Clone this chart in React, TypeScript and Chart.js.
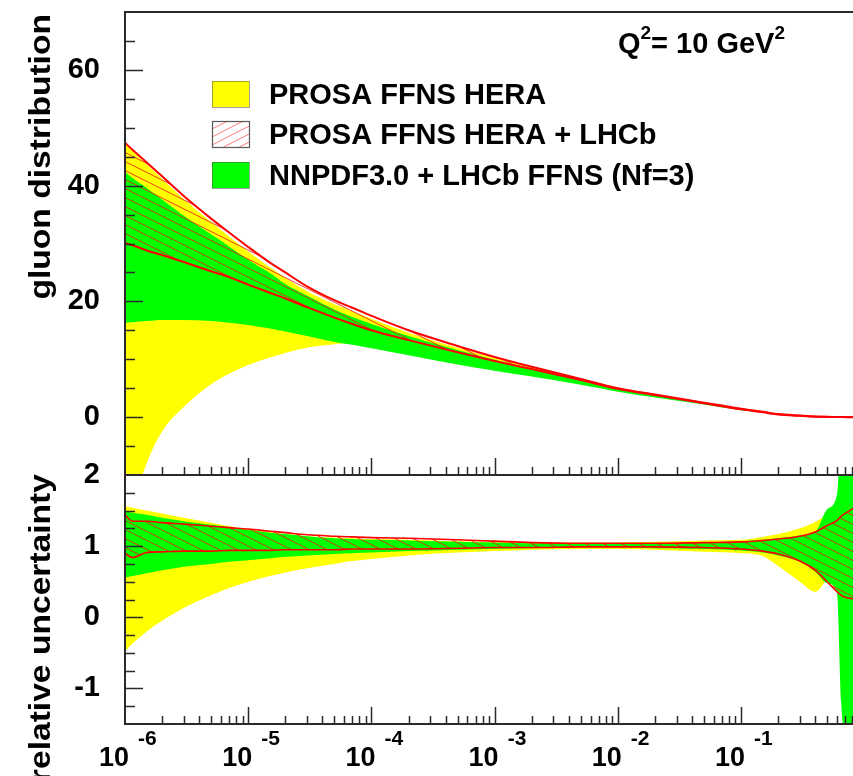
import React, { useEffect, useRef } from 'react';
import { Chart, registerables } from 'chart.js';

Chart.register(...registerables);

// ---------------- data ----------------
const X_VALUES = [1e-6, 1.15e-6, 1.5e-6, 2e-6, 3e-6, 5e-6, 7e-6, 1e-5, 1.5e-5, 2e-5, 3e-5, 5e-5, 7e-5, 1e-4, 2e-4, 5e-4, 1e-3, 2e-3, 5e-3, 1e-2, 2e-2, 5e-2, 0.1, 0.15, 0.2, 0.3, 0.4, 0.5, 0.6, 0.65, 0.7, 0.81];

// upper panel: gluon distribution
const TOP_YELLOW_LOW = [-24, -16, -8.0, -2.5, 1.8, 5.7, 7.5, 9.0, 10.3, 11.1, 12.0, 12.6, 12.8, 12.3, 11.0, 9.4, 8.2, 7.2, 5.8, 4.6, 3.5, 2.3, 1.3, 0.8, 0.45, 0.2, 0.07, 0.03, 0.01, 0, 0, 0];
const TOP_YELLOW_HIGH = [47.4, 46.0, 43.7, 41.2, 37.7, 33.7, 31.2, 28.6, 25.9, 24.1, 21.8, 19.5, 18.3, 17.0, 14.6, 12.0, 10.2, 8.6, 6.5, 5.0, 3.9, 2.5, 1.4, 0.9, 0.5, 0.25, 0.1, 0.05, 0.03, 0.02, 0.01, 0];
const TOP_GREEN_LOW = [16.3, 16.4, 16.6, 16.8, 16.8, 16.6, 16.3, 15.9, 15.3, 14.8, 14.0, 13.0, 12.5, 11.9, 10.7, 9.1, 8.0, 7.0, 5.6, 4.4, 3.4, 2.2, 1.2, 0.75, 0.4, 0.15, 0.05, 0.02, 0, 0, 0, 0];
const TOP_GREEN_HIGH = [42.4, 41.3, 39.6, 37.6, 34.8, 31.6, 29.5, 27.2, 24.9, 23.0, 21.0, 18.6, 17.3, 16.1, 14.0, 11.6, 9.9, 8.4, 6.4, 4.9, 3.8, 2.4, 1.4, 0.9, 0.5, 0.22, 0.08, 0.04, 0.02, 0.01, 0, 0];
const TOP_RED_LOW = [30.1, 29.7, 28.8, 28.0, 26.8, 25.2, 24.2, 22.9, 21.5, 20.5, 19.0, 17.2, 16.1, 15.0, 13.3, 11.2, 9.7, 8.3, 6.4, 4.9, 3.8, 2.4, 1.35, 0.85, 0.45, 0.22, 0.08, 0.04, 0.02, 0.01, 0, 0];
const TOP_RED_HIGH = [47.4, 46.2, 44.0, 41.6, 38.2, 34.3, 31.9, 29.4, 26.7, 25.0, 22.6, 20.2, 18.9, 17.5, 15.0, 12.3, 10.4, 8.7, 6.6, 5.0, 3.9, 2.5, 1.45, 0.92, 0.52, 0.26, 0.1, 0.05, 0.03, 0.02, 0.01, 0];

// lower panel: relative uncertainty
const BOT_YELLOW_LOW = [-0.48, -0.37, -0.20, -0.05, 0.13, 0.31, 0.41, 0.50, 0.58, 0.63, 0.69, 0.75, 0.79, 0.82, 0.87, 0.91, 0.93, 0.95, 0.96, 0.96, 0.95, 0.92, 0.90, 0.86, 0.72, 0.50, 0.36, 0.55, 0.8, 0.8, 0.8, 0.8];
const BOT_YELLOW_HIGH = [1.56, 1.54, 1.50, 1.46, 1.40, 1.33, 1.28, 1.24, 1.20, 1.17, 1.14, 1.12, 1.11, 1.10, 1.09, 1.07, 1.06, 1.05, 1.05, 1.05, 1.06, 1.08, 1.09, 1.13, 1.17, 1.25, 1.34, 1.42, 1.3, 1.3, 1.3, 1.3];
const BOT_GREEN_LOW = [0.56, 0.58, 0.62, 0.66, 0.71, 0.75, 0.78, 0.80, 0.83, 0.85, 0.87, 0.89, 0.90, 0.91, 0.93, 0.95, 0.96, 0.97, 0.98, 0.98, 0.97, 0.96, 0.94, 0.91, 0.87, 0.78, 0.64, 0.48, 0.35, -1.2, -1.7, -1.7];
const BOT_GREEN_HIGH = [1.49, 1.47, 1.44, 1.40, 1.35, 1.30, 1.27, 1.23, 1.19, 1.17, 1.14, 1.11, 1.10, 1.09, 1.08, 1.06, 1.05, 1.04, 1.04, 1.04, 1.04, 1.05, 1.07, 1.09, 1.11, 1.15, 1.2, 1.52, 1.72, 2.6, 2.6, 2.6];
const BOT_RED_LOW = [0.90, 0.84, 0.91, 0.92, 0.93, 0.93, 0.94, 0.94, 0.94, 0.95, 0.95, 0.95, 0.96, 0.96, 0.96, 0.97, 0.98, 0.98, 0.99, 0.99, 0.99, 0.98, 0.96, 0.93, 0.89, 0.79, 0.66, 0.50, 0.36, 0.31, 0.28, 0.26];
const BOT_RED_HIGH = [1.44, 1.35, 1.35, 1.33, 1.31, 1.28, 1.26, 1.24, 1.21, 1.19, 1.16, 1.14, 1.13, 1.12, 1.11, 1.09, 1.07, 1.05, 1.04, 1.04, 1.04, 1.05, 1.06, 1.08, 1.10, 1.14, 1.20, 1.29, 1.36, 1.42, 1.46, 1.53];

const X_TICK_EXPONENTS = [-6, -5, -4, -3, -2, -1];
const TOP_Y_LABELS = [0, 20, 40, 60];
const BOT_Y_LABELS = [-1, 0, 1, 2];
const LEGEND_LABELS = ['PROSA FFNS HERA', 'PROSA FFNS HERA + LHCb', 'NNPDF3.0 + LHCb FFNS (Nf=3)'];
const TOP_TITLE = 'gluon distribution';
const BOT_TITLE = 'relative uncertainty';

// ---------------- styling ----------------
const FONT = '"Liberation Sans", Arial, Helvetica, sans-serif';
const YELLOW = '#ffff00';
const GREEN = '#00ff00';
const RED = '#ff0000';
const FRAME = '#2a2a2a';
const X_MIN = 1e-6;
const X_MAX = 0.81;

const pts = (arr: number[]) => X_VALUES.map((x, i) => ({ x, y: arr[i] }));

function makeHatch(ctx: CanvasRenderingContext2D) {
  const c = document.createElement('canvas');
  c.width = 18;
  c.height = 9;
  const g = c.getContext('2d')!;
  g.strokeStyle = 'rgba(235,25,25,0.85)';
  g.lineWidth = 1;
  for (const dy of [-9, 0, 9]) {
    g.beginPath();
    g.moveTo(0, dy);
    g.lineTo(18, dy + 9);
    g.stroke();
  }
  return ctx.createPattern(c, 'repeat');
}

function buildDatasets(yl: number[], yh: number[], gl: number[], gh: number[], rl: number[], rh: number[], hatch: any, redWidth: number) {
  const none = 'rgba(0,0,0,0)';
  return [
    { data: pts(yl), borderWidth: 0, borderColor: none, fill: false, order: 3 },
    { data: pts(yh), borderWidth: 0, borderColor: none, fill: { target: 0, above: YELLOW, below: YELLOW }, order: 3 },
    { data: pts(gl), borderWidth: 0, borderColor: none, fill: false, order: 2 },
    { data: pts(gh), borderWidth: 0, borderColor: none, fill: { target: 2, above: GREEN, below: GREEN }, order: 2 },
    { data: pts(rl), borderWidth: redWidth, borderColor: RED, fill: false, order: 1 },
    { data: pts(rh), borderWidth: redWidth, borderColor: RED, fill: { target: 4, above: hatch, below: hatch }, order: 1 },
  ];
}

function drawXTicks(ctx: CanvasRenderingContext2D, x: any, yBase: number) {
  ctx.beginPath();
  for (let e = -6; e <= 0; e++) {
    for (let m = 1; m <= 9; m++) {
      const v = m * Math.pow(10, e);
      if (v < X_MIN * 1.0001 || v > X_MAX) continue;
      const px = Math.round(x.getPixelForValue(v)) + 0.5;
      const len = m === 1 ? 17 : 8;
      ctx.moveTo(px, yBase);
      ctx.lineTo(px, yBase - len);
    }
  }
  ctx.stroke();
}

function drawYTicks(ctx: CanvasRenderingContext2D, y: any, left: number, isMajor: (v: number) => boolean) {
  ctx.beginPath();
  for (const t of y.ticks) {
    if (t.value <= y.min || t.value >= y.max) continue;
    const py = Math.round(y.getPixelForValue(t.value)) + 0.5;
    ctx.moveTo(left, py);
    ctx.lineTo(left + (isMajor(t.value) ? 18 : 10), py);
  }
  ctx.stroke();
}

function drawFrame(ctx: CanvasRenderingContext2D, ca: any) {
  ctx.strokeStyle = FRAME;
  ctx.lineWidth = 2;
  ctx.beginPath();
  ctx.moveTo(ca.right + 2, ca.top);
  ctx.lineTo(ca.left, ca.top);
  ctx.lineTo(ca.left, ca.bottom);
  ctx.lineTo(ca.right + 2, ca.bottom);
  ctx.stroke();
}

function drawRotatedTitle(ctx: CanvasRenderingContext2D, text: string, bx: number, endY: number) {
  ctx.save();
  ctx.translate(bx, endY);
  ctx.rotate(-Math.PI / 2);
  ctx.scale(1.12, 1);
  ctx.font = `bold 30px ${FONT}`;
  ctx.fillStyle = '#000';
  ctx.textAlign = 'right';
  ctx.textBaseline = 'alphabetic';
  ctx.fillText(text, 0, 0);
  ctx.restore();
}

const topDecor = {
  id: 'topDecor',
  afterDraw(chart: any) {
    const { ctx, chartArea: ca } = chart;
    const x = chart.scales.x;
    const y = chart.scales.y;
    ctx.save();
    ctx.strokeStyle = FRAME;
    ctx.lineWidth = 1.5;
    drawYTicks(ctx, y, ca.left, (v) => v % 20 === 0);
    drawXTicks(ctx, x, ca.bottom);
    drawFrame(ctx, ca);

    // y title
    drawRotatedTitle(ctx, TOP_TITLE, 50, 14);

    // Q^2 label
    ctx.fillStyle = '#000';
    ctx.textAlign = 'left';
    ctx.textBaseline = 'alphabetic';
    let cx = 618;
    const base = 53;
    const main = `bold 29px ${FONT}`;
    const sup = `bold 19px ${FONT}`;
    ctx.font = main; ctx.fillText('Q', cx, base); cx += ctx.measureText('Q').width;
    ctx.font = sup; ctx.fillText('2', cx, base - 14); cx += ctx.measureText('2').width;
    ctx.font = main; ctx.fillText('= 10 GeV', cx, base); cx += ctx.measureText('= 10 GeV').width;
    ctx.font = sup; ctx.fillText('2', cx, base - 14);

    // legend
    const boxX = 212, boxW = 37, boxH = 26;
    const rows = [81, 121, 162];
    const baselines = [104, 144, 185];
    // yellow
    ctx.fillStyle = YELLOW; ctx.fillRect(boxX, rows[0], boxW, boxH);
    ctx.strokeStyle = 'rgba(90,90,60,0.55)'; ctx.lineWidth = 1;
    ctx.strokeRect(boxX + 0.5, rows[0] + 0.5, boxW, boxH);
    // hatched
    ctx.save();
    ctx.beginPath(); ctx.rect(boxX, rows[1], boxW, boxH); ctx.clip();
    ctx.strokeStyle = 'rgba(255,70,70,0.7)'; ctx.lineWidth = 1;
    for (let k = -4; k < 8; k++) {
      ctx.beginPath();
      ctx.moveTo(boxX, rows[1] + boxH + 4 - k * 8 + 10);
      ctx.lineTo(boxX + boxW + 10, rows[1] + boxH + 4 - k * 8 - 14);
      ctx.stroke();
    }
    ctx.restore();
    ctx.strokeStyle = 'rgba(60,60,60,0.85)'; ctx.lineWidth = 1.2;
    ctx.strokeRect(boxX + 0.5, rows[1] + 0.5, boxW, boxH);
    // green
    ctx.fillStyle = GREEN; ctx.fillRect(boxX, rows[2], boxW, boxH);
    ctx.strokeStyle = 'rgba(60,90,60,0.55)'; ctx.lineWidth = 1;
    ctx.strokeRect(boxX + 0.5, rows[2] + 0.5, boxW, boxH);

    ctx.fillStyle = '#000';
    ctx.font = `bold 29px ${FONT}`;
    LEGEND_LABELS.forEach((t, i) => ctx.fillText(t, 269, baselines[i]));
    ctx.restore();
  },
};

const botDecor = {
  id: 'botDecor',
  afterDraw(chart: any) {
    const { ctx, chartArea: ca } = chart;
    const x = chart.scales.x;
    const y = chart.scales.y;
    ctx.save();
    ctx.strokeStyle = FRAME;
    ctx.lineWidth = 1.5;
    drawYTicks(ctx, y, ca.left, (v) => Number.isInteger(v));
    drawXTicks(ctx, x, ca.bottom);
    drawFrame(ctx, ca);

    drawRotatedTitle(ctx, BOT_TITLE, 50, ca.top - 1);

    ctx.fillStyle = '#000';
    ctx.textBaseline = 'alphabetic';
    for (const e of X_TICK_EXPONENTS) {
      const px = x.getPixelForValue(Math.pow(10, e));
      ctx.font = `bold 27px ${FONT}`;
      ctx.textAlign = 'right';
      ctx.fillText('10', px + 4, ca.bottom + 42);
      ctx.font = `bold 21px ${FONT}`;
      ctx.textAlign = 'left';
      ctx.fillText(String(e), px + 13, ca.bottom + 21);
    }
    ctx.restore();
  },
};

function baseOptions(yMin: number, yMax: number, step: number, labels: number[], pad: any) {
  return {
    responsive: false,
    maintainAspectRatio: false,
    animation: false as const,
    layout: { padding: pad },
    plugins: { legend: { display: false }, tooltip: { enabled: false } },
    elements: { point: { radius: 0 }, line: { cubicInterpolationMode: 'monotone' as const } },
    scales: {
      x: { type: 'logarithmic' as const, min: X_MIN, max: X_MAX, display: false },
      y: {
        min: yMin,
        max: yMax,
        grid: { display: false },
        border: { display: false },
        ticks: {
          stepSize: step,
          autoSkip: false,
          padding: 17,
          color: '#000',
          font: { family: FONT, size: 29, weight: 'bold' as const },
          callback: (v: any) => (labels.includes(Number(v)) ? String(v) : ''),
        },
        afterFit: (s: any) => {
          s.width = 125;
          s.paddingTop = 0;
          s.paddingBottom = 0;
        },
      },
    },
  };
}

export default function App() {
  const topRef = useRef<HTMLCanvasElement>(null);
  const botRef = useRef<HTMLCanvasElement>(null);

  useEffect(() => {
    const tctx = topRef.current!.getContext('2d')!;
    const bctx = botRef.current!.getContext('2d')!;
    const top = new Chart(tctx, {
      type: 'line',
      data: {
        datasets: buildDatasets(TOP_YELLOW_LOW, TOP_YELLOW_HIGH, TOP_GREEN_LOW, TOP_GREEN_HIGH, TOP_RED_LOW, TOP_RED_HIGH, makeHatch(tctx), 2) as any,
      },
      options: baseOptions(-10, 70, 5, TOP_Y_LABELS, { top: 12, bottom: 1, left: 0, right: 0 }) as any,
      plugins: [topDecor],
    });
    const bot = new Chart(bctx, {
      type: 'line',
      data: {
        datasets: buildDatasets(BOT_YELLOW_LOW, BOT_YELLOW_HIGH, BOT_GREEN_LOW, BOT_GREEN_HIGH, BOT_RED_LOW, BOT_RED_HIGH, makeHatch(bctx), 1.6) as any,
      },
      options: baseOptions(-1.5, 2, 0.25, BOT_Y_LABELS, { top: 35, bottom: 52, left: 0, right: 0 }) as any,
      plugins: [botDecor],
    });
    return () => {
      top.destroy();
      bot.destroy();
    };
  }, []);

  return (
    <div style={{ position: 'absolute', left: 0, top: 0, width: 853, height: 776, overflow: 'hidden', background: '#fff' }}>
      <canvas ref={topRef} width={853} height={476} style={{ position: 'absolute', left: 0, top: 0, width: 853, height: 476 }} />
      <canvas ref={botRef} width={853} height={336} style={{ position: 'absolute', left: 0, top: 440, width: 853, height: 336 }} />
    </div>
  );
}
